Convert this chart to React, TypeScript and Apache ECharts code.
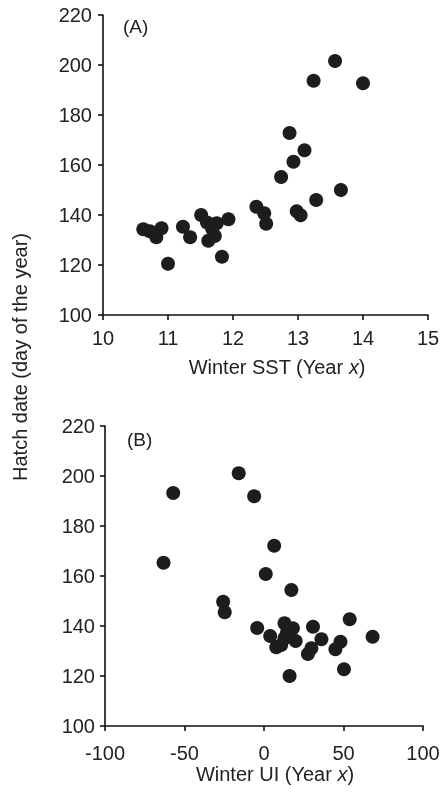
import React, { useEffect, useRef } from "react";
import * as echarts from "echarts";

// Panel A: Winter SST vs hatch date
const sstX = [10.62, 10.72, 10.82, 10.9, 11.0, 11.23, 11.34, 11.51, 11.6, 11.75, 11.93, 11.62, 11.72, 11.68, 11.83, 12.36, 12.48, 12.51, 12.74, 12.87, 12.93, 13.1, 12.98, 13.04, 13.28, 13.66, 13.24, 13.57, 14.0];
const sstY = [134.3, 133.5, 131.1, 134.7, 120.5, 135.3, 131.1, 140.0, 137.0, 136.7, 138.3, 129.7, 131.6, 134.5, 123.3, 143.3, 140.7, 136.5, 155.2, 172.8, 161.3, 165.9, 141.5, 139.9, 146.0, 150.0, 193.7, 201.6, 192.7];

// Panel B: Winter UI vs hatch date
const uiX = [-15.9, -57.1, -6.2, 6.4, -63.2, 1.1, 17.2, -25.7, -24.7, -4.3, 3.9, 7.7, 12.9, 18.2, 19.9, 12.9, 10.8, 14.5, 30.8, 36.1, 29.8, 27.6, 48.1, 44.9, 53.9, 68.3, 50.3, 16.1];
const uiY = [201.1, 193.2, 191.9, 172.1, 165.3, 160.8, 154.4, 149.7, 145.5, 139.2, 136.0, 131.5, 141.1, 139.1, 134.0, 135.1, 132.4, 137.5, 139.7, 134.7, 131.1, 128.8, 133.7, 130.7, 142.7, 135.7, 122.7, 120.0];

const yTicks = { min: 100, max: 220, interval: 20 };
const sstTicks = { min: 10, max: 15, interval: 1 };
const uiTicks = { min: -100, max: 100, interval: 50 };

const FONT = "'Liberation Sans', Arial, Helvetica, sans-serif";
const INK = "#222222";
const DOT = "#1d1d1f";

export default function App() {
  const ref = useRef<HTMLDivElement>(null);
  useEffect(() => {
    if (!ref.current) return;
    const chart = echarts.init(ref.current, undefined, { renderer: "svg" });
    const axisCommon = {
      axisLine: { show: true, onZero: false, lineStyle: { color: "#111", width: 1.6 } },
      axisTick: { show: true, inside: false, length: 5, lineStyle: { color: "#111", width: 1.6 } },
      splitLine: { show: false },
    };
    const labelStyle = { color: INK, fontSize: 20, fontFamily: FONT };
    chart.setOption({
      animation: false,
      grid: [
        { left: 103, top: 15, width: 325, height: 300 },
        { left: 105, top: 426, width: 318, height: 300 },
      ],
      xAxis: [
        { type: "value", gridIndex: 0, ...sstTicks, ...axisCommon, axisLabel: { ...labelStyle, margin: 13 } },
        { type: "value", gridIndex: 1, ...uiTicks, ...axisCommon, axisLabel: { ...labelStyle, margin: 17 } },
      ],
      yAxis: [
        { type: "value", gridIndex: 0, ...yTicks, ...axisCommon, axisLabel: { ...labelStyle, margin: 11 } },
        { type: "value", gridIndex: 1, ...yTicks, ...axisCommon, axisLabel: { ...labelStyle, margin: 10 } },
      ],
      series: [
        {
          type: "scatter",
          xAxisIndex: 0,
          yAxisIndex: 0,
          symbol: "circle",
          symbolSize: 14,
          itemStyle: { color: DOT, opacity: 1 },
          data: sstX.map((x, i) => [x, sstY[i]]),
        },
        {
          type: "scatter",
          xAxisIndex: 1,
          yAxisIndex: 1,
          symbol: "circle",
          symbolSize: 14,
          itemStyle: { color: DOT, opacity: 1 },
          data: uiX.map((x, i) => [x, uiY[i]]),
        },
      ],
      graphic: [
        {
          type: "text",
          x: 123,
          y: 26,
          style: { text: "(A)", fill: INK, fontSize: 19, fontFamily: FONT, verticalAlign: "middle", align: "left" },
        },
        {
          type: "text",
          x: 127,
          y: 439,
          style: { text: "(B)", fill: INK, fontSize: 19, fontFamily: FONT, verticalAlign: "middle", align: "left" },
        },
        {
          type: "text",
          x: 277,
          y: 367,
          style: {
            text: "Winter SST (Year {i|x})",
            fill: INK,
            fontSize: 20,
            fontFamily: FONT,
            align: "center",
            verticalAlign: "middle",
            rich: { i: { fontStyle: "italic", fontSize: 20, fontFamily: FONT, fill: INK } },
          },
        },
        {
          type: "text",
          x: 275,
          y: 774,
          style: {
            text: "Winter UI (Year {i|x})",
            fill: INK,
            fontSize: 20,
            fontFamily: FONT,
            align: "center",
            verticalAlign: "middle",
            rich: { i: { fontStyle: "italic", fontSize: 20, fontFamily: FONT, fill: INK } },
          },
        },
        {
          type: "text",
          x: 20,
          y: 357,
          rotation: Math.PI / 2,
          style: {
            text: "Hatch date (day of the year)",
            fill: INK,
            fontSize: 20,
            fontFamily: FONT,
            align: "center",
            verticalAlign: "middle",
          },
        },
      ],
    });
    return () => chart.dispose();
  }, []);
  return <div ref={ref} style={{ position: "fixed", left: 0, top: 0, width: 444, height: 794 }} />;
}
